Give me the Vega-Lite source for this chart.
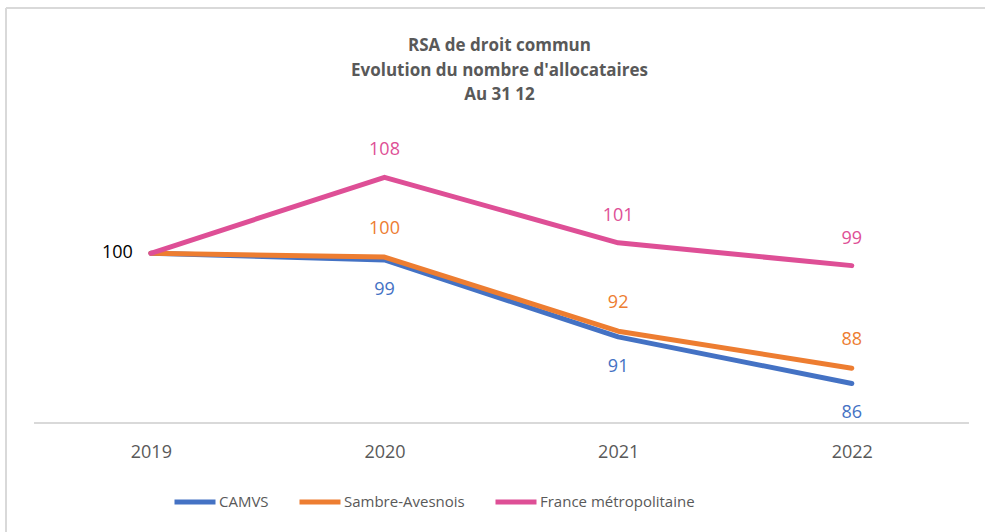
{
  "$schema": "https://vega.github.io/schema/vega-lite/v6.json",
  "width": 979,
  "height": 524,
  "autosize": "none",
  "padding": {"left": 6, "top": 8, "right": 0, "bottom": 0},
  "background": "white",
  "config": {
    "view": {"stroke": null},
    "font": "Open Sans"
  },
  "title": {
    "text": ["RSA de droit commun", "Evolution du nombre d'allocataires", "Au 31 12"],
    "anchor": "middle",
    "frame": "group",
    "fontSize": 17,
    "fontWeight": "bold",
    "color": "#595959",
    "lineHeight": 24.5,
    "offset": 0,
    "dy": 97,
    "dx": 4,
    "font": "Open Sans"
  },
  "data": {
    "values": [
      {"year": 2019, "series": "CAMVS", "value": 100},
      {"year": 2020, "series": "CAMVS", "value": 99.3},
      {"year": 2021, "series": "CAMVS", "value": 91.2},
      {"year": 2022, "series": "CAMVS", "value": 86.3},
      {"year": 2019, "series": "Sambre-Avesnois", "value": 100},
      {"year": 2020, "series": "Sambre-Avesnois", "value": 99.6},
      {"year": 2021, "series": "Sambre-Avesnois", "value": 91.8},
      {"year": 2022, "series": "Sambre-Avesnois", "value": 87.9},
      {"year": 2019, "series": "France métropolitaine", "value": 100},
      {"year": 2020, "series": "France métropolitaine", "value": 108.0},
      {"year": 2021, "series": "France métropolitaine", "value": 101.1},
      {"year": 2022, "series": "France métropolitaine", "value": 98.7}
    ]
  },
  "encoding": {
    "x": {
      "field": "year",
      "type": "quantitative",
      "scale": {"domain": [2018.38, 2022.57], "nice": false, "zero": false},
      "axis": {
        "title": null,
        "values": [2019, 2020, 2021, 2022],
        "format": "d",
        "offset": -109,
        "domain": false,
        "ticks": false,
        "tickSize": 0,
        "grid": false,
        "labelPadding": 20,
        "labelFontSize": 18,
        "labelColor": "#595959",
        "labelFont": "Open Sans",
        "labelFlush": false
      }
    },
    "y": {
      "field": "value",
      "type": "quantitative",
      "scale": {"domain": [70.66, 125.82], "nice": false, "zero": false},
      "axis": null
    }
  },
  "layer": [
    {
      "mark": {"type": "rule", "stroke": "#D9D9D9", "strokeWidth": 1.5},
      "encoding": {"y": {"datum": 125.82, "type": "quantitative"}, "x": null}
    },
    {
      "mark": {"type": "rule", "stroke": "#D9D9D9", "strokeWidth": 1.5},
      "encoding": {"x": {"datum": 2018.38, "type": "quantitative"}, "y": null}
    },
    {
      "mark": {"type": "rule", "stroke": "#D9D9D9", "strokeWidth": 1.5},
      "encoding": {
        "y": {"datum": 82.14, "type": "quantitative"},
        "x": {"datum": 2018.5, "type": "quantitative"},
        "x2": {"datum": 2022.5}
      }
    },
    {
      "mark": {"type": "line", "strokeWidth": 5, "strokeCap": "round", "strokeJoin": "round"},
      "encoding": {
        "color": {
          "field": "series",
          "type": "nominal",
          "scale": {
            "domain": ["CAMVS", "Sambre-Avesnois", "France métropolitaine"],
            "range": ["#4472C4", "#ED7D31", "#DE4F96"]
          },
          "legend": {
            "title": null,
            "orient": "none",
            "direction": "horizontal",
            "legendX": 166,
            "legendY": 471,
            "symbolType": "stroke",
            "symbolSize": 1681,
            "symbolStrokeWidth": 5,
            "labelFontSize": 15,
            "labelColor": "#595959",
            "labelFont": "Open Sans",
            "labelOffset": 1,
            "labelLimit": 0,
            "columnPadding": 20
          }
        },
        "order": {"field": "year", "type": "quantitative"}
      }
    },
    {
      "transform": [{"filter": "datum.year != 2019 && datum.series == 'France métropolitaine'"}],
      "mark": {"type": "text", "fontSize": 18, "dy": -27, "baseline": "middle", "color": "#DE4F96"},
      "encoding": {"text": {"field": "value", "type": "quantitative", "format": ".0f"}}
    },
    {
      "transform": [{"filter": "datum.year != 2019 && datum.series == 'Sambre-Avesnois'"}],
      "mark": {"type": "text", "fontSize": 18, "dy": -28, "baseline": "middle", "color": "#ED7D31"},
      "encoding": {"text": {"field": "value", "type": "quantitative", "format": ".0f"}}
    },
    {
      "transform": [{"filter": "datum.year != 2019 && datum.series == 'CAMVS'"}],
      "mark": {"type": "text", "fontSize": 18, "dy": 30, "baseline": "middle", "color": "#4472C4"},
      "encoding": {"text": {"field": "value", "type": "quantitative", "format": ".0f"}}
    },
    {
      "transform": [{"filter": "datum.year == 2019 && datum.series == 'France métropolitaine'"}],
      "mark": {"type": "text", "fontSize": 18, "align": "right", "dx": -18, "baseline": "middle", "color": "#000000"},
      "encoding": {"text": {"field": "value", "type": "quantitative", "format": ".0f"}}
    }
  ]
}
